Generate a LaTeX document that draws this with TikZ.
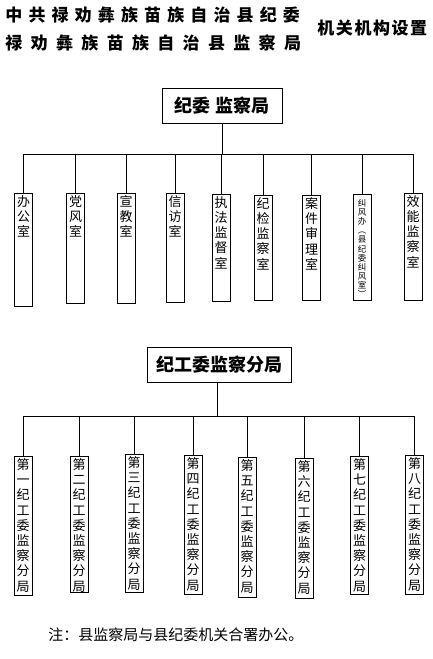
\documentclass[tikz,border=0pt]{standalone}
\usepackage{fontspec}
\setmainfont{Noto Sans CJK SC}
\newcommand\vcol[2]{\parbox[c][\dimexpr#1pt-4pt\relax][t]{1em}{\centering #2}}

\begin{document}
\begin{tikzpicture}[x=1pt,y=-1pt,line width=.9pt,
  cell/.style={draw,inner xsep=0pt,inner ysep=2pt,minimum width=18pt,anchor=north,font=\fontsize{13}{15.2}\selectfont},
  head/.style={draw,inner sep=0pt,minimum height=35pt,font=\bfseries\fontsize{18}{20}\selectfont}]
\useasboundingbox (0,0) rectangle (432,659);
% title
\node[anchor=west,inner sep=0pt,font=\bfseries\fontsize{17}{17}\selectfont\addfontfeature{LetterSpace=36}] (t1) at (5,15) {中共禄劝彝族苗族自治县纪委};
\node[anchor=west,inner sep=0pt,font=\bfseries\fontsize{17}{17}\selectfont\addfontfeature{LetterSpace=49}] (t2) at (5,43) {禄劝彝族苗族自治县监察局};
\node[anchor=west,inner sep=0pt,font=\bfseries\fontsize{17}{17}\selectfont\addfontfeature{LetterSpace=9}] (t3) at (317,28) {机关机构设置};
% upper chart
\node[head,minimum width=120pt] (jw) at (222,105.5) {纪委\ 监察局};
\node[cell] (a1) at (23.5,193) {\vcol{113}{办\\公\\室}};
\node[cell] (a2) at (75.5,193) {\vcol{110}{党\\风\\室}};
\node[cell] (a3) at (126,193) {\vcol{110}{宣\\教\\室}};
\node[cell] (a4) at (175,193) {\vcol{109}{信\\访\\室}};
\node[cell] (a5) at (221,194) {\vcol{107}{执\\法\\监\\督\\室}};
\node[cell] (a6) at (263,195) {\vcol{105}{纪\\检\\监\\察\\室}};
\node[cell] (a7) at (311.5,195) {\vcol{105}{案\\件\\审\\理\\室}};
\node[cell] (a8) at (362,194) {\vcol{106}{\fontsize{8.5}{9.1}\selectfont\vspace*{3pt}纠\\风\\办\\︵\\县\\纪\\委\\纠\\风\\室\\︶}};
\node[cell] (a9) at (413,193) {\vcol{107}{效\\能\\监\\察\\室}};
\coordinate (bar1) at (222,154);
\draw (a1.north |- bar1) -- (a9.north |- bar1);
\draw (jw.south) -- (bar1);
\foreach \n in {a1,a2,a3,a4,a5,a6,a7,a8,a9}
  \draw (\n.north) -- (\n.north |- bar1);
% lower chart
\node[head,minimum width=144pt] (fj) at (219,364.5) {纪工委监察分局};
\node[cell] (b1) at (23,456) {\vcol{139}{第\\一\\纪\\工\\委\\监\\察\\分\\局}};
\node[cell] (b2) at (79,456) {\vcol{136}{第\\二\\纪\\工\\委\\监\\察\\分\\局}};
\node[cell] (b3) at (134,454) {\vcol{138}{第\\三\\纪\\工\\委\\监\\察\\分\\局}};
\node[cell] (b4) at (193,455) {\vcol{139}{第\\四\\纪\\工\\委\\监\\察\\分\\局}};
\node[cell] (b5) at (247,457) {\vcol{140}{第\\五\\纪\\工\\委\\监\\察\\分\\局}};
\node[cell] (b6) at (304,458) {\vcol{140}{第\\六\\纪\\工\\委\\监\\察\\分\\局}};
\node[cell] (b7) at (359.5,456) {\vcol{138}{第\\七\\纪\\工\\委\\监\\察\\分\\局}};
\node[cell] (b8) at (414.5,455) {\vcol{139}{第\\八\\纪\\工\\委\\监\\察\\分\\局}};
\coordinate (bar2) at (217,416);
\draw (b1.north |- bar2) -- (b8.north |- bar2);
\draw (fj.south -| bar2) -- (bar2);
\foreach \n in {b1,b2,b3,b4,b5,b6,b7,b8}
  \draw (\n.north) -- (\n.north |- bar2);
% note
\node[anchor=west,inner sep=0pt,font=\fontsize{15}{15}\selectfont] (note) at (48,635) {注：县监察局与县纪委机关合署办公。};
\end{tikzpicture}
\end{document}
